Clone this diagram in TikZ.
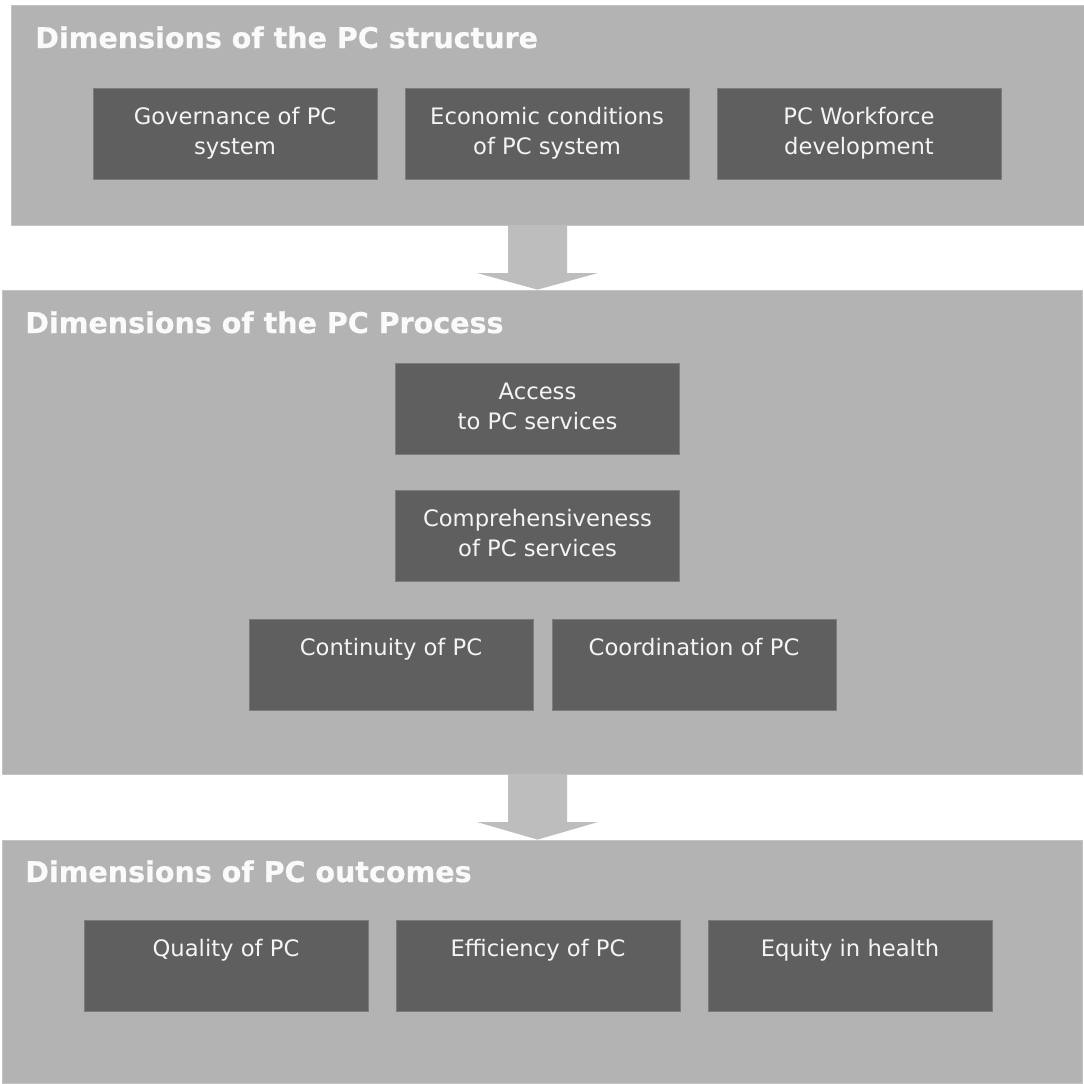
\documentclass[tikz,border=0pt]{standalone}
\usepackage{fontspec}
\setmainfont{DejaVu Sans}
\newfontfamily\titlefont{DejaVu Sans Bold}[FakeBold=0.7]
\usetikzlibrary{fit}
\definecolor{panelc}{HTML}{B3B3B3}
\definecolor{panelline}{HTML}{C4C4C4}
\definecolor{boxc}{HTML}{5F5F5F}
\definecolor{boxline}{HTML}{7C7C7C}
\definecolor{arrowc}{HTML}{BDBDBD}
\definecolor{txtc}{HTML}{F4F4F4}
\definecolor{titlec}{HTML}{FAFAFA}
\newcommand\bt[1]{\parbox[c][68.25pt][t]{213pt}{\centering\rule{0pt}{27pt}#1}}
\tikzset{
  panel/.style={draw=panelline, line width=0.6pt, fill=panelc, inner sep=0pt},
  dbox/.style={draw=boxline, line width=0.6pt, fill=boxc, inner sep=0pt, minimum width=213pt, minimum height=68.25pt, text=txtc, font=\fontsize{17pt}{22.5pt}\selectfont},
  ptitle/.style={anchor=base west, inner sep=0pt, text=titlec, font=\fontsize{21.4pt}{25pt}\selectfont\titlefont},
  bigarrow/.style={fill=arrowc, draw=none}
}
\begin{document}
\begin{tikzpicture}[x=0.75pt, y=-0.75pt]
\useasboundingbox[fill=white] (0,0) rectangle (1084,1083);
% panels
\node[panel, fit={(11,5) (1084,225)}] (p1) {};
\node[panel, fit={(2,290) (1082,774)}] (p2) {};
\node[panel, fit={(2,840) (1082,1083)}] (p3) {};
% arrows
\coordinate (a1) at (537.5,225);
\coordinate (a2) at (537.5,774);
\fill[bigarrow] ([xshift=-22.125pt]a1) -- ([xshift=22.125pt]a1) -- ([xshift=22.125pt]a1 |- 0,273) -- ([xshift=45.375pt]a1 |- 0,273) -- (a1 |- p2.north) -- ([xshift=-45.375pt]a1 |- 0,273) -- ([xshift=-22.125pt]a1 |- 0,273) -- cycle;
\fill[bigarrow] ([xshift=-22.125pt]a2) -- ([xshift=22.125pt]a2) -- ([xshift=22.125pt]a2 |- 0,822) -- ([xshift=45.375pt]a2 |- 0,822) -- (a2 |- p3.north) -- ([xshift=-45.375pt]a2 |- 0,822) -- ([xshift=-22.125pt]a2 |- 0,822) -- cycle;
% titles
\node[ptitle] (t1) at (35,48) {Dimensions of the PC structure};
\node[ptitle] (t2) at (25,333) {Dimensions of the PC Process};
\node[ptitle] (t3) at (25,882) {Dimensions of PC outcomes};
% structure boxes
\node[dbox] (gov) at (235,133.5) {\bt{Governance of PC\\system}};
\node[dbox] (eco) at (547,133.5) {\bt{Economic conditions\\of PC system}};
\node[dbox] (wrk) at (859,133.5) {\bt{PC Workforce\\development}};
% process boxes
\node[dbox] (acc) at (537.5,408.5) {\bt{Access\\to PC services}};
\node[dbox] (com) at (537.5,535.5) {\bt{Comprehensiveness\\of PC services}};
\node[dbox] (con) at (391,664.5) {\bt{Continuity of PC}};
\node[dbox] (coo) at (694,664.5) {\bt{Coordination of PC}};
% outcome boxes
\node[dbox] (qua) at (226,966) {\bt{Quality of PC}};
\node[dbox] (eff) at (538,966) {\bt{Efficiency of PC}};
\node[dbox] (equ) at (850,966) {\bt{Equity in health}};
\end{tikzpicture}
\end{document}
